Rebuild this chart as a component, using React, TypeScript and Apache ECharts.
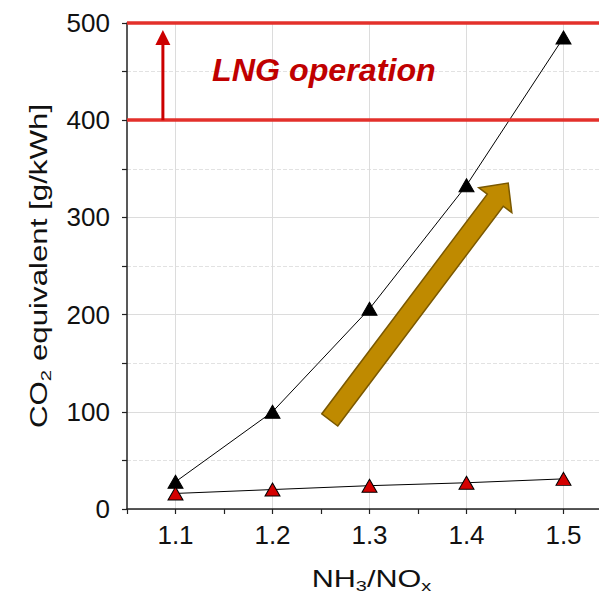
import React, { useEffect, useRef } from "react";
import * as echarts from "echarts";

const ratios = [1.1, 1.2, 1.3, 1.4, 1.5];
const co2Black = [28, 100, 206, 333, 485];
const co2Red = [16, 20, 24, 27, 31];
const lngBand = [400, 500];
const yTicks = { min: 0, max: 500, interval: 100 };
const xRange = { min: 1.05, max: 1.55, interval: 0.05 };
const xName = "{n|NH}{s|3}{n|/NO}{s|x}";
const yName = "{n|CO}{s|2}{n| equivalent [g/kWh]}";
const bandLabel = "LNG operation";

const FONT = "Liberation Sans, Arial, sans-serif";

export default function App() {
  const ref = useRef<HTMLDivElement>(null);
  useEffect(() => {
    if (!ref.current) return;
    const chart = echarts.init(ref.current, null, { renderer: "svg" });
    const rich = {
      n: { fontSize: 23, fontFamily: FONT, fill: "#111", lineHeight: 28, verticalAlign: "middle" },
      s: { fontSize: 15, fontFamily: FONT, fill: "#111", lineHeight: 8, verticalAlign: "bottom" },
    };
    chart.setOption({
      animation: false,
      backgroundColor: "#ffffff",
      grid: { left: 127, right: 0, top: 23, bottom: 92, containLabel: false },
      xAxis: {
        type: "value",
        min: xRange.min,
        max: xRange.max,
        interval: xRange.interval,
        axisLine: { show: true, onZero: false, lineStyle: { color: "#222", width: 1.5 } },
        axisTick: { show: true, length: 5, lineStyle: { color: "#222", width: 1.2 } },
        axisLabel: {
          margin: 13,
          fontSize: 26,
          fontFamily: FONT,
          color: "#111",
          formatter: (v: number) => {
            const t = Math.round(v * 100);
            return t % 10 === 0 ? (t / 100).toFixed(1) : "";
          },
        },
        splitLine: { show: true, lineStyle: { color: ["transparent", "#dcdcdc"], width: 1 } },
      },
      yAxis: {
        type: "value",
        min: yTicks.min,
        max: yTicks.max,
        interval: yTicks.interval,
        axisLine: { show: true, lineStyle: { color: "#222", width: 1.5 } },
        axisTick: { show: true, length: 5, lineStyle: { color: "#222", width: 1.2 } },
        minorTick: { show: true, splitNumber: 2, length: 5, lineStyle: { color: "#222", width: 1.2 } },
        axisLabel: { margin: 17, fontSize: 26, fontFamily: FONT, color: "#111" },
        splitLine: { show: true, lineStyle: { color: "#dcdcdc", width: 1 } },
        minorSplitLine: { show: true, lineStyle: { color: "#e2e2e2", type: "dashed", width: 1 } },
      },
      series: [
        {
          type: "line",
          data: ratios.map((x, i) => [x, co2Black[i]]),
          symbol: "triangle",
          symbolSize: [15, 13],
          lineStyle: { color: "#000", width: 1 },
          itemStyle: { color: "#000", borderColor: "#000", borderWidth: 1 },
          markLine: {
            silent: true,
            symbol: "none",
            label: { show: false },
            lineStyle: { color: "#e3302b", width: 3.5, type: "solid" },
            data: lngBand.map((v) => ({ yAxis: v })),
          },
          z: 3,
        },
        {
          type: "line",
          data: ratios.map((x, i) => [x, co2Red[i]]),
          symbol: "triangle",
          symbolSize: [15, 13],
          lineStyle: { color: "#000", width: 1 },
          itemStyle: { color: "#d40000", borderColor: "#000", borderWidth: 1 },
          z: 3,
        },
      ],
    });

    const px = (x: number, y: number) => chart.convertToPixel({ gridIndex: 0 }, [x, y]) as number[];

    // gold trend arrow
    const tail = px(1.259, 91.6);
    const tip = px(1.443, 335.4);
    const dx = tip[0] - tail[0];
    const dy = tip[1] - tail[1];
    const len = Math.hypot(dx, dy);
    const ux = dx / len, uy = dy / len;
    const nx = -uy, ny = ux;
    const headLen = 21.5, headHalf = 20.7, shaftHalf = 10;
    const bx = tip[0] - ux * headLen, by = tip[1] - uy * headLen;
    const arrowPts = [
      [tail[0] + nx * shaftHalf, tail[1] + ny * shaftHalf],
      [bx + nx * shaftHalf, by + ny * shaftHalf],
      [bx + nx * headHalf, by + ny * headHalf],
      [tip[0], tip[1]],
      [bx - nx * headHalf, by - ny * headHalf],
      [bx - nx * shaftHalf, by - ny * shaftHalf],
      [tail[0] - nx * shaftHalf, tail[1] - ny * shaftHalf],
    ];

    // red vertical arrow
    const vBot = px(1.087, lngBand[0]);
    const vTop = px(1.087, 492.8);
    const vHead = 15;

    // axis name positions from plot geometry
    const origin = px(xRange.min, yTicks.min);
    const midX = px(1.3, 0)[0];
    const midY = px(xRange.min, (yTicks.min + yTicks.max) / 2)[1];

    chart.setOption({
      graphic: [
        {
          type: "polygon",
          shape: { points: arrowPts },
          style: { fill: "#bf8a00", stroke: "#7a5800", lineWidth: 1.5 },
          z: 10,
        },
        {
          type: "line",
          shape: { x1: vBot[0], y1: vBot[1], x2: vTop[0], y2: vTop[1] + vHead - 1 },
          style: { stroke: "#cc0000", lineWidth: 3 },
          z: 10,
        },
        {
          type: "polygon",
          shape: {
            points: [
              [vTop[0], vTop[1]],
              [vTop[0] + 7.5, vTop[1] + vHead],
              [vTop[0] - 7.5, vTop[1] + vHead],
            ],
          },
          style: { fill: "#cc0000" },
          z: 10,
        },
        {
          type: "text",
          x: 212,
          y: 55,
          scaleX: 1.04,
          style: {
            text: bandLabel,
            fill: "#c00000",
            font: "italic bold 31px Liberation Sans, Arial, sans-serif",
          },
          z: 10,
        },
        {
          type: "text",
          x: midX + 2,
          y: origin[1] + 70,
          scaleX: 1.33,
          style: { text: xName, rich, align: "center", verticalAlign: "middle" },
          z: 10,
        },
        {
          type: "text",
          x: origin[0] - 88,
          y: midY,
          rotation: Math.PI / 2,
          scaleX: 1.36,
          style: { text: yName, rich, align: "center", verticalAlign: "middle" },
          z: 10,
        },
      ],
    });

    return () => chart.dispose();
  }, []);
  return (
    <div style={{ position: "fixed", left: 0, top: 0, width: 599, height: 601, overflow: "hidden" }}>
      <div ref={ref} style={{ width: 615, height: 601 }} />
    </div>
  );
}
